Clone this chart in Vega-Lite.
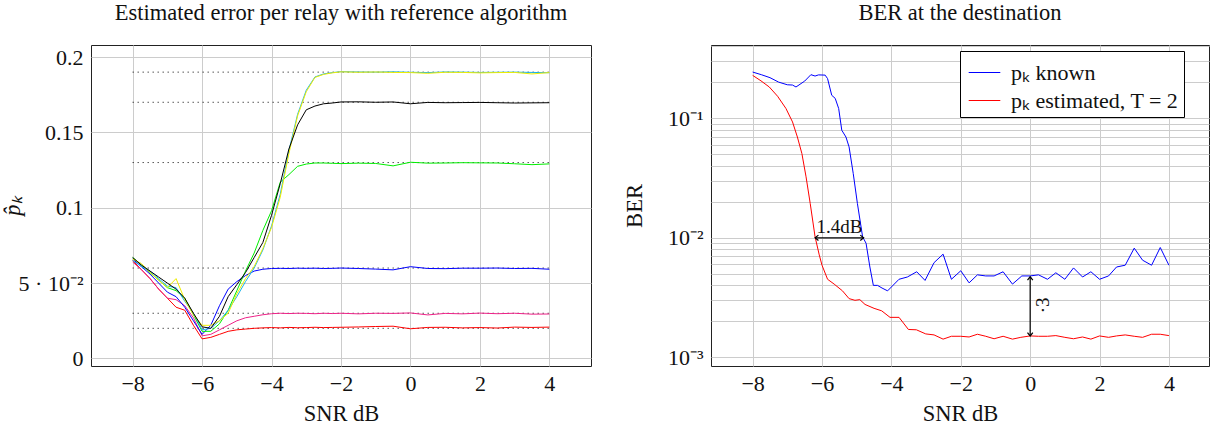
{
"$schema": "https://vega.github.io/schema/vega-lite/v6.json",
"background": "white",
"padding": {"left": 0, "top": 1, "right": 0, "bottom": 0},
"bounds": "flush",
"spacing": 120,
"config": {
  "font": "Liberation Serif",
  "view": {"stroke": "#222", "strokeWidth": 1},
  "axis": {"domain": false, "ticks": false, "grid": true, "gridColor": "#cccccc", "gridWidth": 1, "labelFont": "Liberation Serif", "labelFontSize": 22, "labelColor": "#111", "titleFont": "Liberation Serif", "titleFontSize": 22.5, "titleFontWeight": "normal", "titleColor": "#111", "labelPadding": 8},
  "title": {"font": "Liberation Serif", "fontSize": 22.5, "fontWeight": "normal", "color": "#111", "frame": "group", "anchor": "middle", "offset": 21}
},
"resolve": {"scale": {"color": "independent"}, "legend": {"color": "independent"}},
"hconcat": [
{
  "width": 500, "height": 321,
  "title": "Estimated error per relay with reference algorithm",
  "layer": [
    {
      "data": {"values": [{"p":0.19},{"p":0.17},{"p":0.13},{"p":0.06},{"p":0.03},{"p":0.02}]},
      "mark": {"type": "rule", "color": "#000", "strokeDash": [1, 4], "strokeWidth": 1},
      "encoding": {"x": {"datum": -8, "type": "quantitative"}, "x2": {"datum": 4}, "y": {"field": "p", "type": "quantitative"}}
    },
    {
      "data": {"values": [
{"s":"r","x":-8,"p":0.065},{"s":"r","x":-7.75,"p":0.059},{"s":"r","x":-7.5,"p":0.053},{"s":"r","x":-7.25,"p":0.046},{"s":"r","x":-7,"p":0.040},{"s":"r","x":-6.75,"p":0.034},{"s":"r","x":-6.5,"p":0.032},{"s":"r","x":-6.25,"p":0.022},{"s":"r","x":-6,"p":0.013},{"s":"r","x":-5.75,"p":0.014},{"s":"r","x":-5.5,"p":0.016},{"s":"r","x":-5.25,"p":0.018},{"s":"r","x":-5,"p":0.019},{"s":"r","x":-4.75,"p":0.0195},{"s":"r","x":-4.5,"p":0.020},{"s":"r","x":-4.25,"p":0.0203},{"s":"r","x":-4,"p":0.0205},{"s":"r","x":-3.75,"p":0.0203},{"s":"r","x":-3.5,"p":0.0206},{"s":"r","x":-3.25,"p":0.0204},{"s":"r","x":-3,"p":0.0205},{"s":"r","x":-2.75,"p":0.0207},{"s":"r","x":-2.5,"p":0.0205},{"s":"r","x":-2.25,"p":0.0206},{"s":"r","x":-2,"p":0.0207},{"s":"r","x":-1.5,"p":0.0209},{"s":"r","x":-1,"p":0.0212},{"s":"r","x":-0.5,"p":0.0214},{"s":"r","x":0,"p":0.0197},{"s":"r","x":0.5,"p":0.0206},{"s":"r","x":1,"p":0.0207},{"s":"r","x":1.5,"p":0.0203},{"s":"r","x":2,"p":0.0205},{"s":"r","x":2.5,"p":0.0202},{"s":"r","x":3,"p":0.0208},{"s":"r","x":3.5,"p":0.0206},{"s":"r","x":4,"p":0.0208},
{"s":"m","x":-8,"p":0.064},{"s":"m","x":-7.75,"p":0.059},{"s":"m","x":-7.5,"p":0.053},{"s":"m","x":-7.25,"p":0.046},{"s":"m","x":-7,"p":0.040},{"s":"m","x":-6.75,"p":0.039},{"s":"m","x":-6.5,"p":0.035},{"s":"m","x":-6.25,"p":0.027},{"s":"m","x":-6,"p":0.015},{"s":"m","x":-5.75,"p":0.016},{"s":"m","x":-5.5,"p":0.019},{"s":"m","x":-5.25,"p":0.022},{"s":"m","x":-5,"p":0.025},{"s":"m","x":-4.75,"p":0.027},{"s":"m","x":-4.5,"p":0.028},{"s":"m","x":-4.25,"p":0.029},{"s":"m","x":-4,"p":0.0297},{"s":"m","x":-3.75,"p":0.030},{"s":"m","x":-3.5,"p":0.0298},{"s":"m","x":-3.25,"p":0.030},{"s":"m","x":-3,"p":0.0299},{"s":"m","x":-2.75,"p":0.0297},{"s":"m","x":-2.5,"p":0.0300},{"s":"m","x":-2.25,"p":0.0298},{"s":"m","x":-2,"p":0.0300},{"s":"m","x":-1.5,"p":0.0296},{"s":"m","x":-1,"p":0.0300},{"s":"m","x":-0.5,"p":0.0299},{"s":"m","x":0,"p":0.0302},{"s":"m","x":0.5,"p":0.0289},{"s":"m","x":1,"p":0.0299},{"s":"m","x":1.5,"p":0.0296},{"s":"m","x":2,"p":0.0301},{"s":"m","x":2.5,"p":0.0297},{"s":"m","x":3,"p":0.0300},{"s":"m","x":3.5,"p":0.0294},{"s":"m","x":4,"p":0.0295},
{"s":"b","x":-8,"p":0.066},{"s":"b","x":-7.75,"p":0.061},{"s":"b","x":-7.5,"p":0.056},{"s":"b","x":-7.25,"p":0.050},{"s":"b","x":-7,"p":0.044},{"s":"b","x":-6.75,"p":0.041},{"s":"b","x":-6.5,"p":0.034},{"s":"b","x":-6.25,"p":0.025},{"s":"b","x":-6,"p":0.016},{"s":"b","x":-5.75,"p":0.022},{"s":"b","x":-5.5,"p":0.035},{"s":"b","x":-5.25,"p":0.046},{"s":"b","x":-5,"p":0.051},{"s":"b","x":-4.75,"p":0.055},{"s":"b","x":-4.5,"p":0.058},{"s":"b","x":-4.25,"p":0.0592},{"s":"b","x":-4,"p":0.0597},{"s":"b","x":-3.75,"p":0.0598},{"s":"b","x":-3.5,"p":0.0597},{"s":"b","x":-3.25,"p":0.0599},{"s":"b","x":-3,"p":0.0598},{"s":"b","x":-2.75,"p":0.0599},{"s":"b","x":-2.5,"p":0.0597},{"s":"b","x":-2.25,"p":0.0598},{"s":"b","x":-2,"p":0.0600},{"s":"b","x":-1.5,"p":0.0597},{"s":"b","x":-1,"p":0.0593},{"s":"b","x":-0.5,"p":0.0588},{"s":"b","x":0,"p":0.0609},{"s":"b","x":0.5,"p":0.0597},{"s":"b","x":1,"p":0.0596},{"s":"b","x":1.5,"p":0.0599},{"s":"b","x":2,"p":0.0599},{"s":"b","x":2.5,"p":0.0600},{"s":"b","x":3,"p":0.0597},{"s":"b","x":3.5,"p":0.0598},{"s":"b","x":4,"p":0.0592},
{"s":"g","x":-8,"p":0.067},{"s":"g","x":-7.75,"p":0.062},{"s":"g","x":-7.5,"p":0.057},{"s":"g","x":-7.25,"p":0.052},{"s":"g","x":-7,"p":0.047},{"s":"g","x":-6.75,"p":0.045},{"s":"g","x":-6.5,"p":0.040},{"s":"g","x":-6.25,"p":0.029},{"s":"g","x":-6,"p":0.018},{"s":"g","x":-5.75,"p":0.018},{"s":"g","x":-5.5,"p":0.023},{"s":"g","x":-5.25,"p":0.032},{"s":"g","x":-5,"p":0.045},{"s":"g","x":-4.75,"p":0.058},{"s":"g","x":-4.5,"p":0.070},{"s":"g","x":-4.25,"p":0.085},{"s":"g","x":-4,"p":0.098},{"s":"g","x":-3.75,"p":0.117},{"s":"g","x":-3.5,"p":0.122},{"s":"g","x":-3.25,"p":0.1275},{"s":"g","x":-3,"p":0.129},{"s":"g","x":-2.75,"p":0.1297},{"s":"g","x":-2.5,"p":0.1297},{"s":"g","x":-2.25,"p":0.1295},{"s":"g","x":-2,"p":0.1293},{"s":"g","x":-1.5,"p":0.1296},{"s":"g","x":-1,"p":0.1294},{"s":"g","x":-0.5,"p":0.1278},{"s":"g","x":0,"p":0.1302},{"s":"g","x":0.5,"p":0.1296},{"s":"g","x":1,"p":0.1297},{"s":"g","x":1.5,"p":0.1299},{"s":"g","x":2,"p":0.1298},{"s":"g","x":2.5,"p":0.1297},{"s":"g","x":3,"p":0.1292},{"s":"g","x":3.5,"p":0.1286},{"s":"g","x":4,"p":0.1291},
{"s":"c","x":-8,"p":0.065},{"s":"c","x":-7.75,"p":0.061},{"s":"c","x":-7.5,"p":0.058},{"s":"c","x":-7.25,"p":0.053},{"s":"c","x":-7,"p":0.048},{"s":"c","x":-6.75,"p":0.047},{"s":"c","x":-6.5,"p":0.038},{"s":"c","x":-6.25,"p":0.030},{"s":"c","x":-6,"p":0.019},{"s":"c","x":-5.75,"p":0.020},{"s":"c","x":-5.5,"p":0.025},{"s":"c","x":-5.25,"p":0.032},{"s":"c","x":-5,"p":0.041},{"s":"c","x":-4.75,"p":0.051},{"s":"c","x":-4.5,"p":0.060},{"s":"c","x":-4.25,"p":0.072},{"s":"c","x":-4,"p":0.088},{"s":"c","x":-3.75,"p":0.109},{"s":"c","x":-3.5,"p":0.138},{"s":"c","x":-3.25,"p":0.162},{"s":"c","x":-3,"p":0.178},{"s":"c","x":-2.75,"p":0.1868},{"s":"c","x":-2.5,"p":0.1888},{"s":"c","x":-2.25,"p":0.1897},{"s":"c","x":-2,"p":0.1903},{"s":"c","x":-1.5,"p":0.1901},{"s":"c","x":-1,"p":0.1900},{"s":"c","x":-0.5,"p":0.1902},{"s":"c","x":0,"p":0.1899},{"s":"c","x":0.5,"p":0.1897},{"s":"c","x":1,"p":0.1901},{"s":"c","x":1.5,"p":0.1900},{"s":"c","x":2,"p":0.1898},{"s":"c","x":2.5,"p":0.1899},{"s":"c","x":3,"p":0.1900},{"s":"c","x":3.5,"p":0.1898},{"s":"c","x":4,"p":0.1896},
{"s":"y","x":-8,"p":0.066},{"s":"y","x":-7.75,"p":0.063},{"s":"y","x":-7.5,"p":0.057},{"s":"y","x":-7.25,"p":0.052},{"s":"y","x":-7,"p":0.047},{"s":"y","x":-6.75,"p":0.053},{"s":"y","x":-6.5,"p":0.039},{"s":"y","x":-6.25,"p":0.029},{"s":"y","x":-6,"p":0.022},{"s":"y","x":-5.75,"p":0.022},{"s":"y","x":-5.5,"p":0.025},{"s":"y","x":-5.25,"p":0.030},{"s":"y","x":-5,"p":0.043},{"s":"y","x":-4.75,"p":0.053},{"s":"y","x":-4.5,"p":0.061},{"s":"y","x":-4.25,"p":0.073},{"s":"y","x":-4,"p":0.087},{"s":"y","x":-3.75,"p":0.107},{"s":"y","x":-3.5,"p":0.136},{"s":"y","x":-3.25,"p":0.161},{"s":"y","x":-3,"p":0.177},{"s":"y","x":-2.75,"p":0.1865},{"s":"y","x":-2.5,"p":0.1885},{"s":"y","x":-2.25,"p":0.1895},{"s":"y","x":-2,"p":0.1902},{"s":"y","x":-1.5,"p":0.1899},{"s":"y","x":-1,"p":0.1901},{"s":"y","x":-0.5,"p":0.1898},{"s":"y","x":0,"p":0.1897},{"s":"y","x":0.5,"p":0.1892},{"s":"y","x":1,"p":0.1899},{"s":"y","x":1.5,"p":0.1898},{"s":"y","x":2,"p":0.1895},{"s":"y","x":2.5,"p":0.1897},{"s":"y","x":3,"p":0.1898},{"s":"y","x":3.5,"p":0.1888},{"s":"y","x":4,"p":0.1897},
{"s":"k","x":-8,"p":0.067},{"s":"k","x":-7.75,"p":0.062},{"s":"k","x":-7.5,"p":0.058},{"s":"k","x":-7.25,"p":0.054},{"s":"k","x":-7,"p":0.050},{"s":"k","x":-6.75,"p":0.046},{"s":"k","x":-6.5,"p":0.040},{"s":"k","x":-6.25,"p":0.030},{"s":"k","x":-6,"p":0.021},{"s":"k","x":-5.75,"p":0.020},{"s":"k","x":-5.5,"p":0.028},{"s":"k","x":-5.25,"p":0.041},{"s":"k","x":-5,"p":0.049},{"s":"k","x":-4.75,"p":0.057},{"s":"k","x":-4.5,"p":0.067},{"s":"k","x":-4.25,"p":0.077},{"s":"k","x":-4,"p":0.095},{"s":"k","x":-3.75,"p":0.116},{"s":"k","x":-3.5,"p":0.139},{"s":"k","x":-3.25,"p":0.155},{"s":"k","x":-3,"p":0.165},{"s":"k","x":-2.75,"p":0.1675},{"s":"k","x":-2.5,"p":0.169},{"s":"k","x":-2.25,"p":0.1695},{"s":"k","x":-2,"p":0.1702},{"s":"k","x":-1.5,"p":0.1703},{"s":"k","x":-1,"p":0.1700},{"s":"k","x":-0.5,"p":0.1702},{"s":"k","x":0,"p":0.1690},{"s":"k","x":0.5,"p":0.1699},{"s":"k","x":1,"p":0.1697},{"s":"k","x":1.5,"p":0.1698},{"s":"k","x":2,"p":0.1699},{"s":"k","x":2.5,"p":0.1697},{"s":"k","x":3,"p":0.1695},{"s":"k","x":3.5,"p":0.1696},{"s":"k","x":4,"p":0.1697}
      ]},
      "mark": {"type": "line", "strokeWidth": 1, "clip": true},
      "encoding": {
        "x": {"field": "x", "type": "quantitative", "scale": {"domain": [-9.2, 5.2], "nice": false, "zero": false}, "axis": {"values": [-8, -6, -4, -2, 0, 2, 4], "title": "SNR dB", "titlePadding": 8, "labelPadding": 7}},
        "y": {"field": "p", "type": "quantitative", "scale": {"domain": [-0.005, 0.208], "nice": false, "zero": false}, "axis": {"values": [0, 0.05, 0.1, 0.15, 0.2], "labelExpr": "datum.value == 0.05 ? '5 · 10⁻²' : format(datum.value, '~g')", "title": "p̂ₖ", "titleFontStyle": "italic", "titleX": -79, "titleAngle": -90, "titleBaseline": "middle"}},
        "color": {"field": "s", "type": "nominal", "scale": {"domain": ["r", "m", "b", "g", "c", "y", "k"], "range": ["#ff0000", "#ee2288", "#0000ff", "#00ee00", "#1ab2e8", "#eeee00", "#000000"]}, "legend": null}
      }
    }
  ]
},
{
  "width": 498, "height": 321,
  "title": "BER at the destination",
  "layer": [
    {
      "data": {"values": [
{"s":"known","x":-8,"y":0.244},{"s":"known","x":-7.75,"y":0.232},{"s":"known","x":-7.5,"y":0.219},{"s":"known","x":-7.25,"y":0.201},{"s":"known","x":-7,"y":0.191},{"s":"known","x":-6.85,"y":0.190},{"s":"known","x":-6.75,"y":0.183},{"s":"known","x":-6.5,"y":0.205},{"s":"known","x":-6.32,"y":0.232},{"s":"known","x":-6.2,"y":0.226},{"s":"known","x":-6.1,"y":0.231},{"s":"known","x":-5.91,"y":0.230},{"s":"known","x":-5.84,"y":0.215},{"s":"known","x":-5.72,"y":0.156},{"s":"known","x":-5.62,"y":0.147},{"s":"known","x":-5.52,"y":0.121},{"s":"known","x":-5.43,"y":0.0795},{"s":"known","x":-5.31,"y":0.0698},{"s":"known","x":-5.22,"y":0.0577},{"s":"known","x":-5.1,"y":0.0345},{"s":"known","x":-4.98,"y":0.0194},{"s":"known","x":-4.83,"y":0.0102},{"s":"known","x":-4.73,"y":0.0090},{"s":"known","x":-4.62,"y":0.0057},{"s":"known","x":-4.52,"y":0.0040},{"s":"known","x":-4.4,"y":0.0040},{"s":"known","x":-4.27,"y":0.0038},{"s":"known","x":-4.11,"y":0.0036},{"s":"known","x":-3.78,"y":0.0045},{"s":"known","x":-3.54,"y":0.0047},{"s":"known","x":-3.27,"y":0.0052},{"s":"known","x":-3.03,"y":0.0044},{"s":"known","x":-2.77,"y":0.0062},{"s":"known","x":-2.51,"y":0.0073},{"s":"known","x":-2.27,"y":0.0045},{"s":"known","x":-2,"y":0.0053},{"s":"known","x":-1.76,"y":0.0042},{"s":"known","x":-1.52,"y":0.0049},{"s":"known","x":-1.28,"y":0.0048},{"s":"known","x":-1.04,"y":0.0048},{"s":"known","x":-0.78,"y":0.0052},{"s":"known","x":-0.51,"y":0.0041},{"s":"known","x":-0.24,"y":0.0048},{"s":"known","x":0,"y":0.0048},{"s":"known","x":0.24,"y":0.0049},{"s":"known","x":0.5,"y":0.0045},{"s":"known","x":0.74,"y":0.0051},{"s":"known","x":1,"y":0.0045},{"s":"known","x":1.25,"y":0.0056},{"s":"known","x":1.51,"y":0.0047},{"s":"known","x":1.75,"y":0.0052},{"s":"known","x":2,"y":0.0045},{"s":"known","x":2.26,"y":0.0048},{"s":"known","x":2.49,"y":0.0057},{"s":"known","x":2.74,"y":0.0059},{"s":"known","x":3,"y":0.0082},{"s":"known","x":3.24,"y":0.0065},{"s":"known","x":3.5,"y":0.0059},{"s":"known","x":3.75,"y":0.0083},{"s":"known","x":4,"y":0.0059},
{"s":"est","x":-8,"y":0.229},{"s":"est","x":-7.76,"y":0.206},{"s":"est","x":-7.52,"y":0.183},{"s":"est","x":-7.28,"y":0.153},{"s":"est","x":-7.04,"y":0.121},{"s":"est","x":-6.85,"y":0.0933},{"s":"est","x":-6.71,"y":0.0698},{"s":"est","x":-6.58,"y":0.0507},{"s":"est","x":-6.46,"y":0.0324},{"s":"est","x":-6.34,"y":0.0194},{"s":"est","x":-6.2,"y":0.0102},{"s":"est","x":-6.08,"y":0.0072},{"s":"est","x":-6,"y":0.0059},{"s":"est","x":-5.84,"y":0.0045},{"s":"est","x":-5.65,"y":0.0041},{"s":"est","x":-5.41,"y":0.0036},{"s":"est","x":-5.22,"y":0.0031},{"s":"est","x":-5.05,"y":0.0030},{"s":"est","x":-4.91,"y":0.00304},{"s":"est","x":-4.76,"y":0.00277},{"s":"est","x":-4.5,"y":0.00257},{"s":"est","x":-4.28,"y":0.00245},{"s":"est","x":-4.04,"y":0.00216},{"s":"est","x":-3.78,"y":0.00216},{"s":"est","x":-3.51,"y":0.00171},{"s":"est","x":-3.28,"y":0.0017},{"s":"est","x":-3.01,"y":0.00157},{"s":"est","x":-2.77,"y":0.00154},{"s":"est","x":-2.51,"y":0.00142},{"s":"est","x":-2.27,"y":0.0015},{"s":"est","x":-2,"y":0.0015},{"s":"est","x":-1.76,"y":0.00148},{"s":"est","x":-1.52,"y":0.00156},{"s":"est","x":-1.28,"y":0.0015},{"s":"est","x":-1.04,"y":0.00143},{"s":"est","x":-0.78,"y":0.0015},{"s":"est","x":-0.51,"y":0.00142},{"s":"est","x":-0.27,"y":0.00147},{"s":"est","x":0,"y":0.00151},{"s":"est","x":0.24,"y":0.0015},{"s":"est","x":0.5,"y":0.0015},{"s":"est","x":0.74,"y":0.00152},{"s":"est","x":1,"y":0.00147},{"s":"est","x":1.25,"y":0.00143},{"s":"est","x":1.51,"y":0.00148},{"s":"est","x":1.75,"y":0.00142},{"s":"est","x":2,"y":0.00151},{"s":"est","x":2.26,"y":0.00147},{"s":"est","x":2.49,"y":0.00151},{"s":"est","x":2.74,"y":0.00154},{"s":"est","x":3,"y":0.0015},{"s":"est","x":3.24,"y":0.00147},{"s":"est","x":3.5,"y":0.00156},{"s":"est","x":3.75,"y":0.00156},{"s":"est","x":4,"y":0.00152}
      ]},
      "mark": {"type": "line", "strokeWidth": 1, "clip": true},
      "encoding": {
        "x": {"field": "x", "type": "quantitative", "scale": {"domain": [-9.2, 5.155], "nice": false, "zero": false}, "axis": {"values": [-8, -6, -4, -2, 0, 2, 4], "title": "SNR dB", "titlePadding": 8, "labelPadding": 7}},
        "y": {"field": "y", "type": "quantitative", "scale": {"type": "log", "domain": [0.000846, 0.411], "nice": false}, "axis": {"values": [0.001,0.002,0.003,0.004,0.005,0.006,0.007,0.008,0.009,0.01,0.02,0.03,0.04,0.05,0.06,0.07,0.08,0.09,0.1,0.2,0.3,0.4], "labelExpr": "datum.value == 0.1 ? '10⁻¹' : datum.value == 0.01 ? '10⁻²' : datum.value == 0.001 ? '10⁻³' : ''", "title": "BER", "titleX": -77, "titleAngle": -90, "titleBaseline": "middle"}},
        "color": {"field": "s", "type": "nominal", "scale": {"domain": ["known", "est"], "range": ["#0000ff", "#ff0000"]},
          "legend": {"orient": "none", "legendX": 249, "legendY": 6, "title": null, "symbolType": "stroke", "symbolSize": 1000, "symbolStrokeWidth": 1, "symbolOffset": 3, "labelFont": "Liberation Serif", "labelFontSize": 22, "labelColor": "#111", "labelLimit": 400, "labelExpr": "datum.label == 'known' ? 'pₖ known' : 'pₖ estimated, T = 2'", "strokeColor": "#000", "fillColor": "#fff", "padding": 5, "rowPadding": -8, "labelOffset": 10}}
      }
    },
    {
      "data": {"values": [{"a": -6.2, "b": -4.8, "v": 0.01}]},
      "mark": {"type": "rule", "color": "#000", "strokeWidth": 1.2},
      "encoding": {"x": {"field": "a", "type": "quantitative"}, "x2": {"field": "b"}, "y": {"field": "v", "type": "quantitative"}}
    },
    {
      "data": {"values": [{"a": 0, "lo": 0.00151, "hi": 0.00472}]},
      "mark": {"type": "rule", "color": "#000", "strokeWidth": 1.2},
      "encoding": {"x": {"field": "a", "type": "quantitative"}, "y": {"field": "lo", "type": "quantitative"}, "y2": {"field": "hi"}}
    },
    {
      "data": {"values": [{"a": -4.8, "v": 0.01}]},
      "mark": {"type": "point", "shape": "M-1,-0.8L0,0L-1,0.8", "size": 45, "filled": false, "stroke": "#000", "strokeWidth": 1.2, "opacity": 1},
      "encoding": {"x": {"field": "a", "type": "quantitative"}, "y": {"field": "v", "type": "quantitative"}}
    },
    {
      "data": {"values": [{"a": -6.2, "v": 0.01}]},
      "mark": {"type": "point", "shape": "M1,-0.8L0,0L1,0.8", "size": 45, "filled": false, "stroke": "#000", "strokeWidth": 1.2, "opacity": 1},
      "encoding": {"x": {"field": "a", "type": "quantitative"}, "y": {"field": "v", "type": "quantitative"}}
    },
    {
      "data": {"values": [{"a": 0, "v": 0.00472}]},
      "mark": {"type": "point", "shape": "M-0.8,1L0,0L0.8,1", "size": 45, "filled": false, "stroke": "#000", "strokeWidth": 1.2, "opacity": 1},
      "encoding": {"x": {"field": "a", "type": "quantitative"}, "y": {"field": "v", "type": "quantitative"}}
    },
    {
      "data": {"values": [{"a": 0, "v": 0.00151}]},
      "mark": {"type": "point", "shape": "M-0.8,-1L0,0L0.8,-1", "size": 45, "filled": false, "stroke": "#000", "strokeWidth": 1.2, "opacity": 1},
      "encoding": {"x": {"field": "a", "type": "quantitative"}, "y": {"field": "v", "type": "quantitative"}}
    },
    {
      "data": {"values": [{"a": -5.5, "v": 0.01, "t": "1.4dB"}]},
      "mark": {"type": "text", "baseline": "bottom", "dy": -1, "fontSize": 19, "font": "Liberation Serif", "color": "#111"},
      "encoding": {"x": {"field": "a", "type": "quantitative"}, "y": {"field": "v", "type": "quantitative"}, "text": {"field": "t"}}
    },
    {
      "data": {"values": [{"a": 0.37, "v": 0.00272, "t": "·3"}]},
      "mark": {"type": "text", "baseline": "middle", "align": "center", "angle": 270, "fontSize": 19, "font": "Liberation Serif", "color": "#111"},
      "encoding": {"x": {"field": "a", "type": "quantitative"}, "y": {"field": "v", "type": "quantitative"}, "text": {"field": "t"}}
    }
  ]
}
]
}
